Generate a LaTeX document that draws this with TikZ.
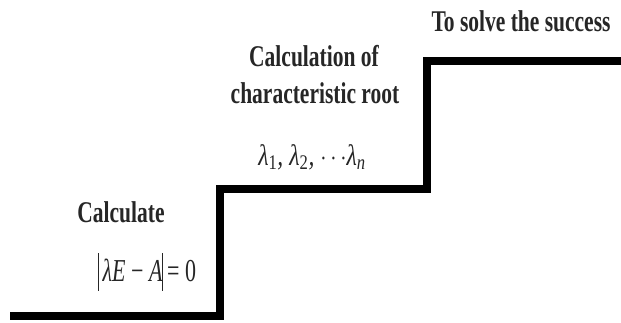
\documentclass[tikz,border=0pt]{standalone}
\usepackage{fontspec}
\setmainfont{Liberation Serif}
\usepackage{graphicx}
\newcommand{\tallbar}{\rule[-0.3em]{1pt}{1.18em}}
\tikzset{
  stair/.style={line width=8pt, line cap=butt, line join=miter, black},
  lbl/.style={inner sep=0pt, font=\bfseries\fontsize{21.5}{26}\selectfont, text=black!85},
  frm/.style={inner sep=0pt, font=\fontsize{22}{26}\selectfont, text=black!85}
}
\begin{document}
\begin{tikzpicture}[x=1pt,y=-1pt]
\useasboundingbox (0,0) rectangle (621,322);
\coordinate (s0) at (10,316);
\coordinate (s1) at (220,316);
\coordinate (s2) at (220,189);
\coordinate (s3) at (426.5,189);
\coordinate (s4) at (426.5,61);
\coordinate (s5) at (621,61);
\draw[stair] (s0) -- (s1) -- (s2) -- (s3) -- (s4) -- (s5);
\node[lbl] (t1) at (121,212) {\scalebox{1}[1.4]{Calculate}};
\node[frm] (f1) at (147,272) {\scalebox{1}[1.45]{\tallbar\,{\itshape λE} − {\itshape A}\tallbar\,= 0}};
\node[lbl] (t2) at (314,56) {\scalebox{1}[1.4]{Calculation of}};
\node[lbl] (t3) at (315,93) {\scalebox{1}[1.4]{characteristic root}};
\node[frm] (f2) at (312,157) {\scalebox{1.08}[1.35]{\itshape λ\textsubscript{\upshape 1}, λ\textsubscript{\upshape 2}, $\cdots$λ\textsubscript{n}}};
\node[lbl] (t4) at (521,21) {\scalebox{1}[1.4]{To solve the success}};
\end{tikzpicture}
\end{document}
